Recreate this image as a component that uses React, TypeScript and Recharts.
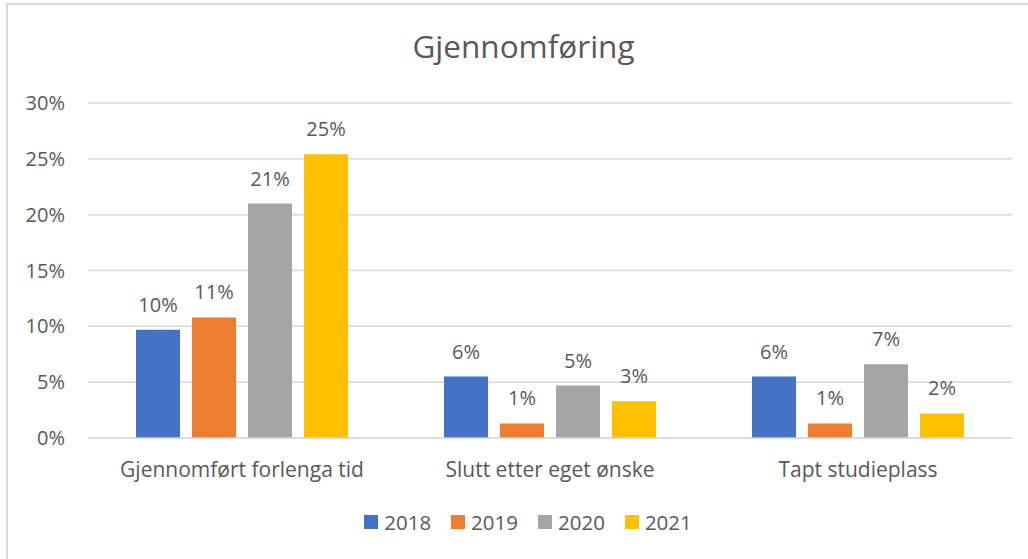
import React from "react";
import { BarChart, Bar, XAxis, YAxis, CartesianGrid, Legend, LabelList } from "recharts";

const categories = ["Gjennomført forlenga tid", "Slutt etter eget ønske", "Tapt studieplass"];
const years = ["2018", "2019", "2020", "2021"];
const values2018 = [9.7, 5.5, 5.5];
const values2019 = [10.8, 1.3, 1.3];
const values2020 = [21.0, 4.7, 6.6];
const values2021 = [25.4, 3.3, 2.2];
const yTicks = [0, 5, 10, 15, 20, 25, 30];
const colors = ["#4472C4", "#ED7D31", "#A5A5A5", "#FFC000"];
const title = "Gjennomføring";

const seriesValues = [values2018, values2019, values2020, values2021];
const data = categories.map((c, i) => {
  const row: Record<string, string | number> = { name: c };
  years.forEach((y, k) => {
    row[y] = seriesValues[k][i];
  });
  return row;
});

const FONT = "'Open Sans', sans-serif";
const TEXT = "#595959";

const LegendContent = () => (
  <div
    style={{
      height: 24,
      display: "flex",
      justifyContent: "center",
      alignItems: "center",
      fontFamily: FONT,
      fontSize: 20.5,
      color: TEXT,
      paddingLeft: 16,
    }}
  >
    {years.map((y, i) => (
      <div key={y} style={{ display: "flex", alignItems: "center", marginRight: i < years.length - 1 ? 20 : 0 }}>
        <div style={{ width: 14, height: 14, background: colors[i], marginRight: 6 }} />
        <span>{y}</span>
      </div>
    ))}
  </div>
);

export default function App() {
  return (
    <div style={{ position: "absolute", left: 0, top: 0, width: 1028, height: 559, background: "#fff", overflow: "hidden" }}>
      <div
        style={{
          position: "absolute",
          left: 6,
          top: 3,
          width: 1030,
          height: 570,
          borderLeft: "2px solid #D9D9D9",
          borderTop: "2px solid #D9D9D9",
        }}
      />
      <div
        style={{
          position: "absolute",
          left: 0,
          top: 24,
          width: 1047,
          textAlign: "center",
          fontFamily: FONT,
          fontSize: 31.5,
          lineHeight: "normal",
          color: TEXT,
        }}
      >
        {title}
      </div>
      <div style={{ position: "absolute", left: 0, top: 0 }}>
        <BarChart
          width={1028}
          height={559}
          data={data}
          margin={{ top: 103, right: 16, left: 28, bottom: 25 }}
          barCategoryGap={48}
          barGap={12}
        >
          <CartesianGrid vertical={false} stroke="#D9D9D9" strokeWidth={1.5} />
          <XAxis
            dataKey="name"
            height={72}
            axisLine={{ stroke: "#D9D9D9", strokeWidth: 1.5 }}
            tickLine={false}
            tickSize={0}
            tickMargin={24}
            tick={{ fill: TEXT, fontSize: 21, fontFamily: FONT }}
          />
          <YAxis
            width={60}
            domain={[0, 30]}
            ticks={yTicks}
            tickFormatter={(v) => `${v}%`}
            axisLine={false}
            tickLine={false}
            tickSize={0}
            tickMargin={23}
            tick={{ fill: TEXT, fontSize: 20, fontFamily: FONT }}
          />
          <Legend verticalAlign="bottom" content={<LegendContent />} />
          {years.map((y, i) => (
            <Bar key={y} dataKey={y} fill={colors[i]} isAnimationActive={false}>
              <LabelList
                dataKey={y}
                position="top"
                offset={18}
                fill={TEXT}
                fontSize={20}
                fontFamily={FONT}
                formatter={(v: number) => `${Math.round(v)}%`}
              />
            </Bar>
          ))}
        </BarChart>
      </div>
    </div>
  );
}
